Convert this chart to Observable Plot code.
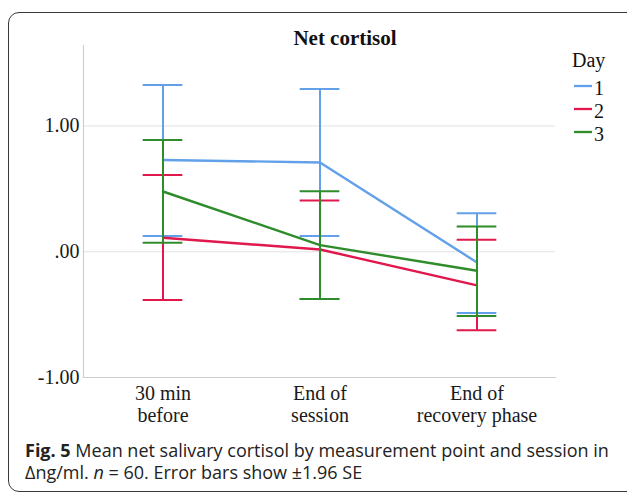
<!DOCTYPE html>
<html><head><meta charset="utf-8">
<script src="https://cdn.jsdelivr.net/npm/d3@7"></script>
<script src="https://cdn.jsdelivr.net/npm/@observablehq/plot@0.6"></script>
<style>
html,body{margin:0;padding:0;background:#fff;overflow:hidden;width:627px;height:495px}
#wrap{position:relative;width:627px;height:495px}
#border{position:absolute;left:8px;top:12px;width:660px;height:480px;border:1.5px solid #3a3a3a;border-radius:11px;box-sizing:border-box}
#chart{position:absolute;left:0;top:0}
#over{position:absolute;left:0;top:0}
</style></head>
<body><div id="wrap"><div id="border"></div><div id="chart"></div><svg id="over" width="627" height="495"></svg></div>
<script>
const title = "Net cortisol";
const legendTitle = "Day";
const days = ["1", "2", "3"];
const colors = ["#62a0ea", "#e0184c", "#2f8c2b"];
const points = ["30 min\nbefore", "End of\nsession", "End of\nrecovery phase"];
const yTicks = [-1, 0, 1];
// means and ±1.96 SE bounds per day
const mean1 = [0.73, 0.71, -0.085];
const lo1 = [0.125, 0.125, -0.487];
const hi1 = [1.325, 1.294, 0.307];
const mean2 = [0.111, 0.018, -0.267];
const lo2 = [-0.384, -0.376, -0.624];
const hi2 = [0.611, 0.407, 0.095];
const mean3 = [0.479, 0.053, -0.151];
const lo3 = [0.071, -0.376, -0.51];
const hi3 = [0.889, 0.482, 0.201];
const captionBold = "Fig. 5";
const captionLine1 = " Mean net salivary cortisol by measurement point and session in";
const captionLine2a = "Δng/ml. ";
const captionLine2b = "n";
const captionLine2c = " = 60. Error bars show ±1.96 SE";

const means = [mean1, mean2, mean3], los = [lo1, lo2, lo3], his = [hi1, hi2, hi3];
const rows = [];
days.forEach((d, k) => points.forEach((p, i) => rows.push({day: d, point: p, mean: means[k][i], lo: los[k][i], hi: his[k][i]})));
const fmt = v => v === 0 ? ".00" : v.toFixed(2);
const serif = "'Liberation Serif','Times New Roman',serif";
const W = 627, ML = 83, MR = 72;
const capInset = ((W - ML - MR) / points.length - 40) / 2;

const seriesMarks = days.flatMap((d, k) => {
  const data = rows.filter(r => r.day === d);
  const c = colors[k];
  return [
    Plot.line(data, {x: "point", y: "mean", stroke: c, strokeWidth: 2.4}),
    Plot.ruleX(data, {x: "point", y1: "lo", y2: "hi", stroke: c, strokeWidth: 2}),
    Plot.tickY(data, {x: "point", y: "lo", stroke: c, strokeWidth: 2, insetLeft: capInset, insetRight: capInset}),
    Plot.tickY(data, {x: "point", y: "hi", stroke: c, strokeWidth: 2, insetLeft: capInset, insetRight: capInset})
  ];
});

const plot = Plot.plot({
  width: W, height: 440,
  marginLeft: ML, marginRight: MR, marginTop: 45, marginBottom: 63,
  x: {type: "band", domain: points, padding: 0, label: null},
  y: {domain: [-1, 1.64], label: null},
  style: {fontFamily: serif, fontSize: "20px", color: "#1a1a1a", background: "transparent"},
  marks: [
    Plot.gridY(yTicks.filter(v => v > -1), {stroke: "#e2e2e2", strokeOpacity: 1, strokeWidth: 1.2}),
    Plot.frame({anchor: "left", stroke: "#cfcfcf", strokeWidth: 1.2}),
    Plot.frame({anchor: "bottom", stroke: "#cfcfcf", strokeWidth: 1.2}),
    Plot.axisY({ticks: yTicks, tickSize: 0, tickPadding: 4, tickFormat: fmt, fontSize: 20}),
    Plot.axisX({tickSize: 0, tickPadding: 7, lineHeight: 1.1, fontSize: 20}),
    ...seriesMarks
  ]
});
document.getElementById("chart").appendChild(plot);

const svg = d3.select("#over");
svg.append("text").attr("x", 345).attr("y", 45).attr("text-anchor", "middle")
  .style("font-family", serif).style("font-weight", "bold").style("font-size", "21px").attr("fill", "#111").text(title);
svg.append("text").attr("x", 572).attr("y", 67)
  .style("font-family", serif).style("font-size", "20px").attr("fill", "#111").text(legendTitle);
days.forEach((d, k) => {
  const y = 86 + k * 23;
  svg.append("line").attr("x1", 574).attr("x2", 592).attr("y1", y).attr("y2", y).attr("stroke", colors[k]).attr("stroke-width", 2.3);
  svg.append("text").attr("x", 594).attr("y", y + 9)
    .style("font-family", serif).style("font-size", "20px").attr("fill", "#111").text(d);
});
const cap = svg.append("g").style("font-family", "'Open Sans','Noto Sans',sans-serif").style("font-size", "18px").attr("fill", "#222");
const t1 = cap.append("text").attr("x", 25).attr("y", 457);
t1.append("tspan").style("font-weight", "bold").text(captionBold);
t1.append("tspan").text(captionLine1);
const t2 = cap.append("text").attr("x", 25).attr("y", 479);
t2.append("tspan").text(captionLine2a);
t2.append("tspan").style("font-style", "italic").text(captionLine2b);
t2.append("tspan").text(captionLine2c);
</script></body></html>
